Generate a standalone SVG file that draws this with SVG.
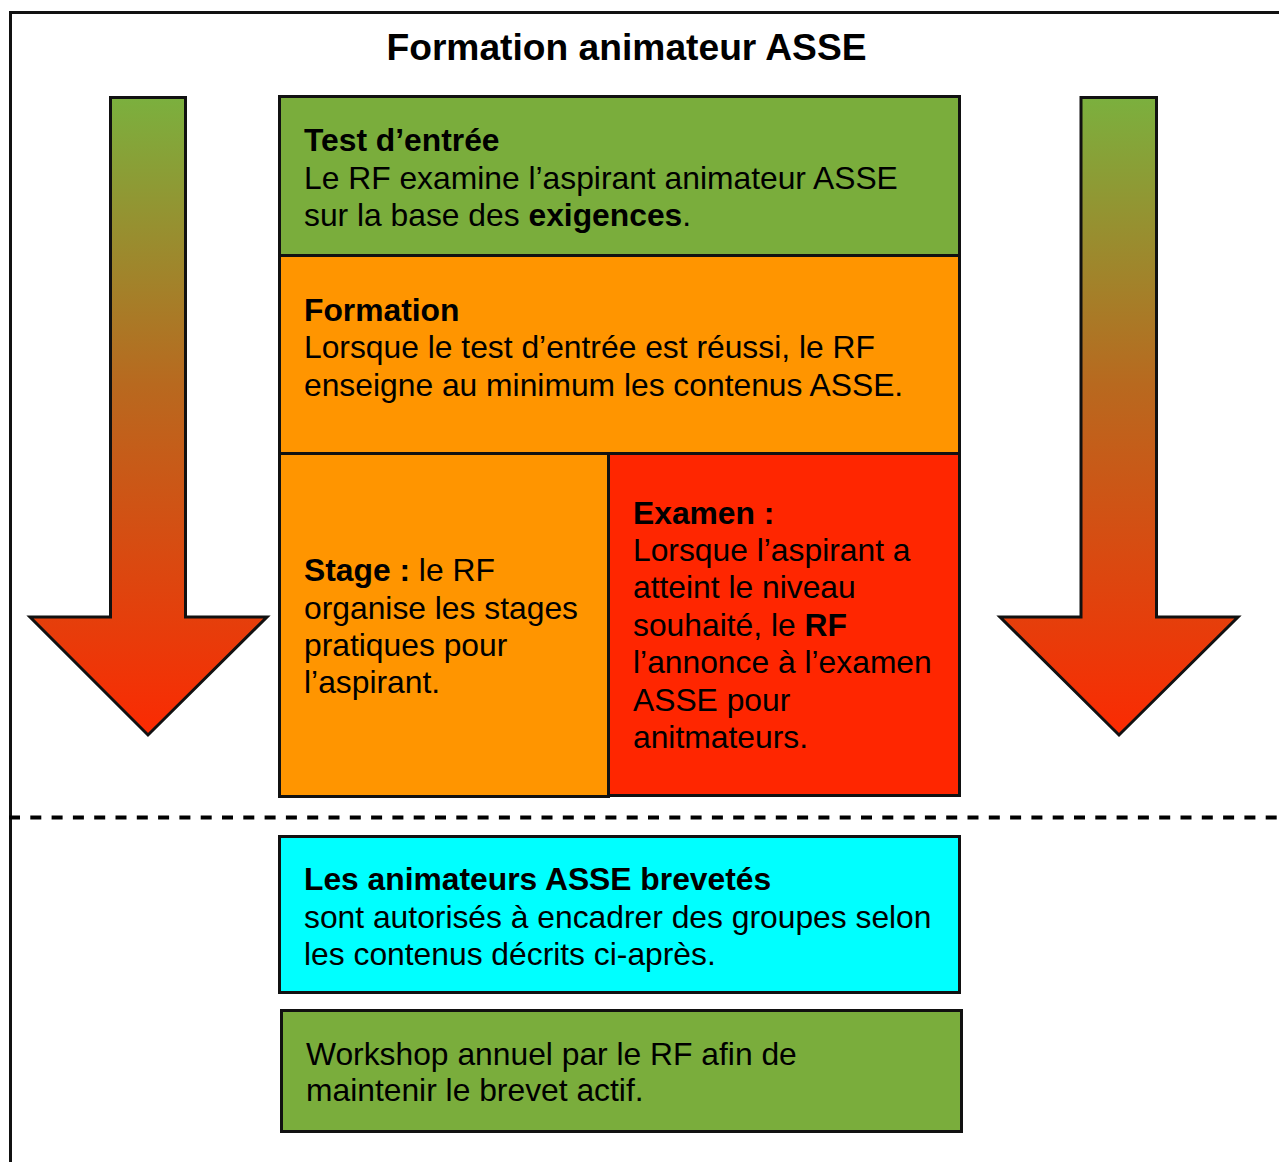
<svg xmlns="http://www.w3.org/2000/svg" width="1279" height="1162" viewBox="0 0 1279 1162">
<defs>
<linearGradient id="arrowGrad" x1="0" y1="0" x2="0" y2="1">
<stop offset="0" stop-color="#7bb03e"/>
<stop offset="0.45" stop-color="#b8691f"/>
<stop offset="1" stop-color="#fb2a02"/>
</linearGradient>
<style>
.box{stroke:#111;stroke-width:3}
.t{font-family:"Liberation Sans",Arial,Helvetica,sans-serif;font-size:31.8px;fill:#000}
.b{font-weight:bold}
.title{font-size:37.2px}
.arrow{fill:url(#arrowGrad);stroke:#111;stroke-width:3;stroke-linejoin:miter}
</style>
</defs>
<rect width="1279" height="1162" fill="#fff"/>
<path d="M10.5,1162 V12.5 H1279" fill="none" stroke="#111" stroke-width="3"/>
<text class="t b title" x="626.5" y="60" text-anchor="middle">Formation animateur ASSE</text>

<g id="arrow-left">
<polygon class="arrow" points="110.5,97.5 185.5,97.5 185.5,617 267,617 148,735 30,617 110.5,617"/>
</g>
<g id="arrow-right">
<polygon class="arrow" points="1081,97.5 1156.5,97.5 1156.5,617 1238,617 1119,735 1000,617 1081,617"/>
</g>

<g id="connectors">
<line x1="9" y1="817.5" x2="1279" y2="817.5" stroke="#000" stroke-width="4" stroke-dasharray="11,10.3"/>
</g>

<g id="test-entree">
<rect class="box" x="279.5" y="96.5" width="680" height="159" fill="#7aad3c"/>
<text class="t" x="304"><tspan class="b" x="304" y="151">Test d’entrée</tspan><tspan x="304" y="189">Le RF examine l’aspirant animateur ASSE</tspan><tspan x="304" y="226">sur la base des <tspan class="b">exigences</tspan>.</tspan></text>
</g>

<g id="formation">
<rect class="box" x="279.5" y="255.5" width="680" height="198" fill="#ff9500"/>
<text class="t" x="304"><tspan class="b" x="304" y="321">Formation</tspan><tspan x="304" y="358">Lorsque le test d’entrée est réussi, le RF</tspan><tspan x="304" y="396">enseigne au minimum les contenus ASSE.</tspan></text>
</g>

<g id="stage">
<rect class="box" x="279.5" y="453.5" width="329" height="343" fill="#ff9500"/>
<text class="t" x="304"><tspan x="304" y="581"><tspan class="b">Stage :</tspan> le RF</tspan><tspan x="304" y="619">organise les stages</tspan><tspan x="304" y="656">pratiques pour</tspan><tspan x="304" y="693">l’aspirant.</tspan></text>
</g>

<g id="examen">
<rect class="box" x="608.5" y="453.5" width="351" height="342" fill="#ff2600"/>
<text class="t" x="633"><tspan class="b" x="633" y="524">Examen :</tspan><tspan x="633" y="561">Lorsque l’aspirant a</tspan><tspan x="633" y="598">atteint le niveau</tspan><tspan x="633" y="636">souhaité, le <tspan class="b">RF</tspan></tspan><tspan x="633" y="673">l’annonce à l’examen</tspan><tspan x="633" y="711">ASSE pour</tspan><tspan x="633" y="748">anitmateurs.</tspan></text>
</g>

<g id="brevetes">
<rect class="box" x="279.5" y="836.5" width="680" height="156" fill="#00ffff"/>
<text class="t" x="304"><tspan class="b" x="304" y="890">Les animateurs ASSE brevetés</tspan><tspan x="304" y="928">sont autorisés à encadrer des groupes selon</tspan><tspan x="304" y="965">les contenus décrits ci-après.</tspan></text>
</g>

<g id="workshop">
<rect class="box" x="281.5" y="1010.5" width="680" height="121" fill="#7aad3c"/>
<text class="t" x="306"><tspan x="306" y="1065">Workshop annuel par le RF afin de</tspan><tspan x="306" y="1101">maintenir le brevet actif.</tspan></text>
</g>
</svg>
